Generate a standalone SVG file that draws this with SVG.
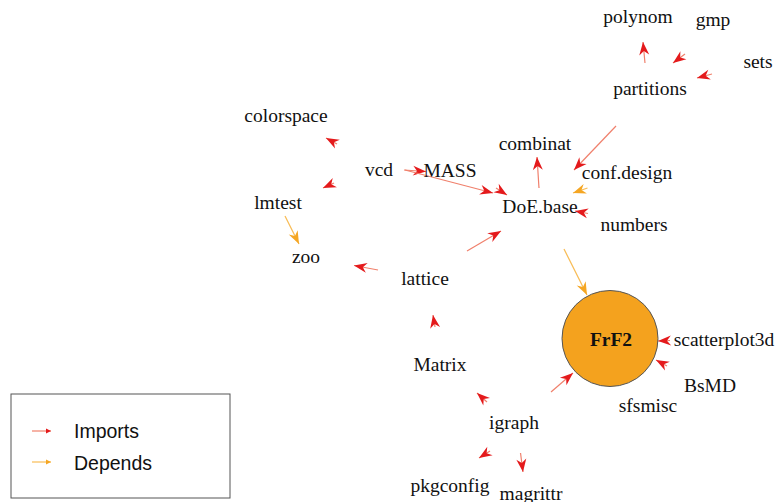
<svg xmlns="http://www.w3.org/2000/svg" width="777" height="502" viewBox="0 0 777 502">
<style>
.lbl{font-family:"Liberation Serif","Times New Roman",serif;font-size:19.5px;fill:#111;text-anchor:middle}
.imp{stroke:#f0806c;stroke-width:1.2;fill:none;marker-end:url(#ah-r)}
.dep{stroke:#f8bc55;stroke-width:1.2;fill:none;marker-end:url(#ah-o)}
.leg{font-family:"Liberation Sans",Arial,sans-serif;font-size:19.5px;fill:#111}
</style>
<defs>
<marker id="ah-r" markerUnits="userSpaceOnUse" viewBox="-14 -6 15 12" refX="0" refY="0" markerWidth="15" markerHeight="12" orient="auto">
<path d="M0,0 L-13,-5 L-9,0 L-13,5 Z" fill="#e41a1c"/>
</marker>
<marker id="ah-o" markerUnits="userSpaceOnUse" viewBox="-14 -6 15 12" refX="0" refY="0" markerWidth="15" markerHeight="12" orient="auto">
<path d="M0,0 L-13,-5 L-9,0 L-13,5 Z" fill="#f5a623"/>
</marker>
<marker id="lh-r" markerUnits="userSpaceOnUse" viewBox="-6 -4 7 8" refX="0" refY="0" markerWidth="7" markerHeight="8" orient="auto">
<path d="M0,0 L-5,-2.5 L-5,2.5 Z" fill="#e41a1c"/>
</marker>
<marker id="lh-o" markerUnits="userSpaceOnUse" viewBox="-6 -4 7 8" refX="0" refY="0" markerWidth="7" markerHeight="8" orient="auto">
<path d="M0,0 L-5,-2.5 L-5,2.5 Z" fill="#f5a623"/>
</marker>
</defs>
<rect width="777" height="502" fill="#fff"/>
<g id="edges">
<line class="imp" x1="645" y1="63" x2="643" y2="42"/>
<line class="imp" x1="685" y1="54" x2="673" y2="63"/>
<line class="imp" x1="712" y1="74" x2="697" y2="78"/>
<line class="imp" x1="616" y1="126" x2="574" y2="170"/>
<line class="dep" x1="587.5" y1="188" x2="573" y2="193"/>
<line class="imp" x1="539" y1="188" x2="537" y2="157"/>
<line class="imp" x1="588" y1="213.5" x2="575" y2="211"/>
<line class="imp" x1="404" y1="170" x2="426" y2="171.5"/>
<line class="imp" x1="405" y1="170" x2="493" y2="193"/>
<line class="imp" x1="496" y1="188" x2="507" y2="195"/>
<line class="imp" x1="467" y1="251" x2="501" y2="231"/>
<line class="imp" x1="337" y1="144" x2="326" y2="138"/>
<line class="imp" x1="334" y1="183" x2="323" y2="188"/>
<line class="dep" x1="285" y1="216" x2="299" y2="244"/>
<line class="imp" x1="378" y1="270" x2="354" y2="265.5"/>
<line class="imp" x1="435" y1="327" x2="433" y2="315"/>
<line class="imp" x1="487" y1="402" x2="477" y2="393"/>
<line class="imp" x1="551" y1="392" x2="573" y2="373"/>
<line class="imp" x1="490" y1="451" x2="479" y2="458"/>
<line class="imp" x1="520.5" y1="453" x2="523" y2="472"/>
<line class="dep" x1="564" y1="249" x2="587" y2="295"/>
<line class="imp" x1="670" y1="340.5" x2="658" y2="341"/>
<line class="imp" x1="667" y1="366" x2="656" y2="360"/>
</g>
<g id="FrF2"><circle cx="610" cy="338.5" r="48" fill="#f4a21e" stroke="#555" stroke-width="1"/><text class="lbl" x="611" y="346" font-weight="bold">FrF2</text></g>
<g id="polynom"><text class="lbl" x="638" y="23">polynom</text></g>
<g id="gmp"><text class="lbl" x="713" y="26">gmp</text></g>
<g id="sets"><text class="lbl" x="758" y="68">sets</text></g>
<g id="partitions"><text class="lbl" x="650" y="95">partitions</text></g>
<g id="colorspace"><text class="lbl" x="286" y="122">colorspace</text></g>
<g id="vcd"><text class="lbl" x="379" y="176">vcd</text></g>
<g id="MASS"><text class="lbl" x="450" y="177">MASS</text></g>
<g id="lmtest"><text class="lbl" x="278" y="209">lmtest</text></g>
<g id="zoo"><text class="lbl" x="306" y="263">zoo</text></g>
<g id="lattice"><text class="lbl" x="425" y="285">lattice</text></g>
<g id="combinat"><text class="lbl" x="535" y="150">combinat</text></g>
<g id="conf.design"><text class="lbl" x="627" y="179">conf.design</text></g>
<g id="DoE.base"><text class="lbl" x="540" y="213">DoE.base</text></g>
<g id="numbers"><text class="lbl" x="634" y="231">numbers</text></g>
<g id="scatterplot3d"><text class="lbl" x="724" y="346">scatterplot3d</text></g>
<g id="BsMD"><text class="lbl" x="710" y="392">BsMD</text></g>
<g id="sfsmisc"><text class="lbl" x="648" y="412">sfsmisc</text></g>
<g id="Matrix"><text class="lbl" x="440" y="371">Matrix</text></g>
<g id="igraph"><text class="lbl" x="514" y="429">igraph</text></g>
<g id="pkgconfig"><text class="lbl" x="450" y="492">pkgconfig</text></g>
<g id="magrittr"><text class="lbl" x="531" y="500">magrittr</text></g>
<g id="legend">
<rect x="11" y="394" width="219" height="104" fill="#fff" stroke="#555" stroke-width="1"/>
<line x1="32" y1="431" x2="51" y2="431" stroke="#f0806c" stroke-width="1.2" marker-end="url(#lh-r)"/>
<line x1="32" y1="462" x2="51" y2="462" stroke="#f8bc55" stroke-width="1.2" marker-end="url(#lh-o)"/>
<text class="leg" x="74" y="438">Imports</text>
<text class="leg" x="74" y="470">Depends</text>
</g>
</svg>
